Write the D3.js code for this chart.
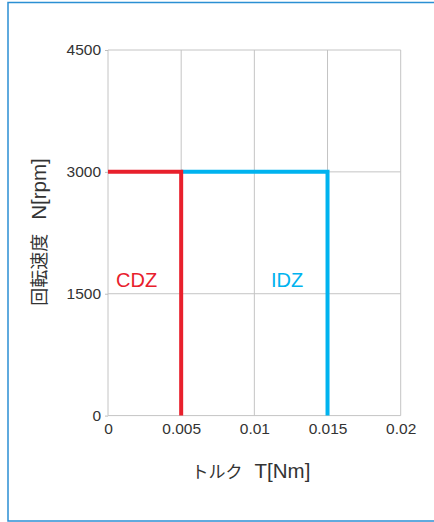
<!DOCTYPE html>
<html>
<head>
<meta charset="utf-8">
<script src="https://cdn.jsdelivr.net/npm/d3@7"></script>
<style>
  body { margin: 0; background: #fff; }
  svg { display: block; font-family: "Liberation Sans", Arial, "Noto Sans CJK JP", sans-serif; }
  .axis text { fill: #333; font-size: 15.5px; font-family: "Liberation Sans", Arial, sans-serif; }
  .axis line { stroke: #bdbdbd; }
</style>
</head>
<body>
<div id="chart"></div>
<script>
// torque limit curves (T in Nm, N in rpm)
var cdzT = [0, 0.005, 0.005]
var cdzN = [3000, 3000, 0]
var idzT = [0.005, 0.015, 0.015]
var idzN = [3000, 3000, 0]
var xTicks = [0, 0.005, 0.01, 0.015, 0.02]
var xTickLabels = ["0", "0.005", "0.01", "0.015", "0.02"]
var yTicks = [0, 1500, 3000, 4500]

const W = 434, H = 522
const svg = d3.select('#chart').append('svg').attr('width', W).attr('height', H)

// outer frame
svg.append('rect').attr('x', 8).attr('y', 2.5).attr('width', 500).attr('height', 518.5)
  .attr('fill', 'none').attr('stroke', '#2b8fd3').attr('stroke-width', 1.5)

const x = d3.scaleLinear().domain([0, 0.02]).range([108, 400.7])
const y = d3.scaleLinear().domain([0, 4500]).range([415.6, 50])

// grid + plot border
const grid = svg.append('g').attr('stroke', '#c4c4c4').attr('stroke-width', 1)
xTicks.forEach((t) => {
  grid.append('line').attr('x1', x(t)).attr('x2', x(t)).attr('y1', y(0)).attr('y2', y(4500))
})
yTicks.forEach((t) => {
  grid.append('line').attr('x1', x(0)).attr('x2', x(0.02)).attr('y1', y(t)).attr('y2', y(t))
})

const axisY = d3.axisLeft(y).tickValues(yTicks).tickSize(3).tickPadding(4).tickFormat(d3.format('d'))
svg.append('g').attr('class', 'axis').attr('transform', `translate(${x(0)},0)`).call(axisY)
  .call((g) => g.select('.domain').remove())

const axisX = d3.axisBottom(x).tickValues(xTicks).tickSize(0).tickPadding(7)
  .tickFormat((d, i) => xTickLabels[i])
svg.append('g').attr('class', 'axis').attr('transform', `translate(0,${y(0)})`).call(axisX)
  .call((g) => g.select('.domain').remove())

const lineFunc = d3.line().x((d) => x(d[0])).y((d) => y(d[1]))
const idz = idzT.map((t, i) => [t, idzN[i]])
const cdz = cdzT.map((t, i) => [t, cdzN[i]])
svg.append('path').attr('d', lineFunc(idz)).attr('fill', 'none')
  .attr('stroke', '#00b3ef').attr('stroke-width', 4).attr('stroke-linejoin', 'miter')
svg.append('path').attr('d', lineFunc(cdz)).attr('fill', 'none')
  .attr('stroke', '#e8202c').attr('stroke-width', 4).attr('stroke-linejoin', 'miter')

// series labels
svg.append('text').attr('x', 116).attr('y', 287).attr('font-size', 20).attr('fill', '#e8202c').text('CDZ')
svg.append('text').attr('x', 271).attr('y', 287).attr('font-size', 20).attr('fill', '#00b3ef').text('IDZ')

// axis titles
const xt = svg.append('text').attr('x', 251).attr('y', 478).attr('text-anchor', 'middle').attr('fill', '#333')
xt.append('tspan').attr('font-size', 17).attr('font-family', '"Noto Sans CJK JP"').text('トルク')
xt.append('tspan').attr('dx', 12).attr('font-size', 20.5).text('T[Nm]')

const yt = svg.append('text').attr('transform', 'translate(46,232) rotate(-90)')
  .attr('text-anchor', 'middle').attr('fill', '#333')
yt.append('tspan').attr('font-size', 18).attr('font-family', '"Noto Sans CJK JP"').text('回転速度')
yt.append('tspan').attr('dx', 14).attr('font-size', 20.5).text('N[rpm]')
</script>
</body>
</html>
